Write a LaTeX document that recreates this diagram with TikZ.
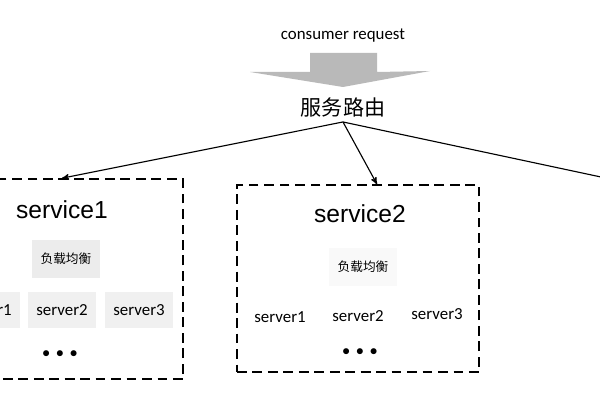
\documentclass[tikz,border=0pt]{standalone}
\usepackage{fontspec}
\setmainfont{Carlito}
\newfontfamily\arialfont{Liberation Sans}
\newfontfamily\cjk{Noto Sans CJK SC}
\usetikzlibrary{arrows}

\begin{document}
\begin{tikzpicture}[x=0.025cm,y=-0.025cm,line width=0.8pt,
    svcbox/.style={draw,dash pattern=on 7pt off 4pt,line width=1.1pt,inner sep=0pt,minimum width=6.05cm},
    srv/.style={fill=gray!12,minimum width=1.7cm,minimum height=0.875cm,inner sep=0pt,font=\fontsize{12}{14}\selectfont},
    lb/.style={fill=gray!15,minimum width=1.675cm,minimum height=0.95cm,inner sep=0pt,font=\cjk\fontsize{9}{11}\selectfont},
    title/.style={font=\arialfont\fontsize{17.5}{20}\selectfont},
    dots/.style={font=\fontsize{11}{13}\selectfont}]
      \clip (0,0) rectangle (600,400);
      \fill[white] (0,0) rectangle (600,400);

      \node [font=\fontsize{12}{14}\selectfont] (req) at (343, 36) {consumer request};
      \fill [gray!55] (310,53) -- (377,53) -- (377,72) -- (430,71) -- (343,87) -- (250,72) -- (310,72) -- cycle;
      \node [font=\cjk\fontsize{15}{18}\selectfont] (route) at (343, 107) {服务路由};

      % service1
      \node [svcbox,minimum height=5cm] (svc1) at (62, 279) {};
      \node [title] (t1) at (62, 210) {service1};
      \node [lb] (lb1) at (66, 259) {负载均衡};
      \node [srv] (s11) at (-14, 310) {server1};
      \node [srv] (s12) at (62, 310) {server2};
      \node [srv] (s13) at (139, 310) {server3};
      \node [dots] (d1) at (60, 354) {$\bullet\,\bullet\,\bullet$};

      % service2
      \node [svcbox,minimum height=4.675cm] (svc2) at (358, 278.5) {};
      \node [title] (t2) at (360, 214) {service2};
      \node [lb,fill=gray!5] (lb2) at (363, 267) {负载均衡};
      \node [srv,fill=none] (s21) at (280, 317) {server1};
      \node [srv,fill=none] (s22) at (358, 316) {server2};
      \node [srv,fill=none] (s23) at (437, 314) {server3};
      \node [dots] (d2) at (360, 352) {$\bullet\,\bullet\,\bullet$};

      \coordinate (svc3) at (615, 180);

      \draw [-stealth'] (route.south) -- (svc1.north);
      \draw [-stealth'] (route.south) -- (svc2.north -| 377,0);
      \draw [-stealth'] (route.south) -- (svc3);
    \end{tikzpicture}
\end{document}
